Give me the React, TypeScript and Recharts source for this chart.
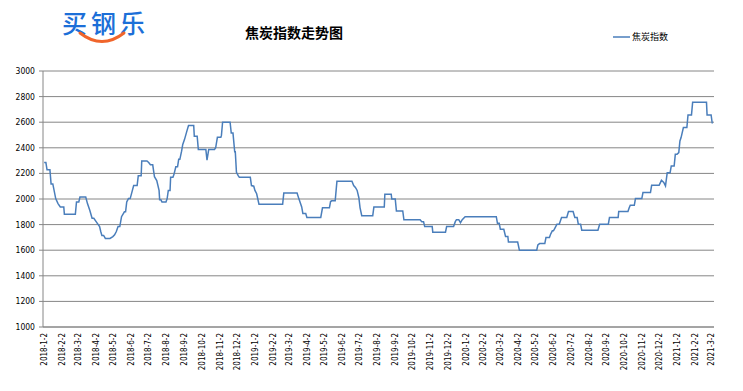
import React from 'react';
import { LineChart, Line, XAxis, YAxis, CartesianGrid } from 'recharts';

// coke index at the corners of its steps
const dates = [
  '2018-01-02', '2018-01-05', '2018-01-07', '2018-01-12', '2018-01-14', '2018-01-17', '2018-01-22', '2018-01-26',
  '2018-01-30', '2018-02-05', '2018-02-06', '2018-02-25', '2018-02-27', '2018-03-03', '2018-03-05', '2018-03-15',
  '2018-03-18', '2018-03-22', '2018-03-26', '2018-03-29', '2018-04-02', '2018-04-08', '2018-04-10', '2018-04-12',
  '2018-04-15', '2018-04-18', '2018-04-26', '2018-05-01', '2018-05-04', '2018-05-07', '2018-05-10', '2018-05-13',
  '2018-05-16', '2018-05-21', '2018-05-23', '2018-05-25', '2018-05-28', '2018-05-31', '2018-06-03', '2018-06-06',
  '2018-06-12', '2018-06-14', '2018-06-19', '2018-06-20', '2018-06-29', '2018-07-02', '2018-07-05', '2018-07-09',
  '2018-07-12', '2018-07-16', '2018-07-20', '2018-07-21', '2018-07-23', '2018-07-25', '2018-08-01', '2018-08-03',
  '2018-08-05', '2018-08-08', '2018-08-09', '2018-08-13', '2018-08-15', '2018-08-18', '2018-08-21', '2018-08-23',
  '2018-08-25', '2018-08-28', '2018-08-30', '2018-09-02', '2018-09-06', '2018-09-09', '2018-09-18', '2018-09-19',
  '2018-09-24', '2018-09-26', '2018-10-09', '2018-10-11', '2018-10-14', '2018-10-24', '2018-10-26', '2018-10-29',
  '2018-11-04', '2018-11-05', '2018-11-07', '2018-11-20', '2018-11-22', '2018-11-25', '2018-11-28', '2018-11-29',
  '2018-12-01', '2018-12-04', '2018-12-06', '2018-12-25', '2018-12-27', '2018-12-31', '2019-01-02', '2019-01-05',
  '2019-01-09', '2019-02-19', '2019-02-21', '2019-03-16', '2019-03-19', '2019-03-24', '2019-03-26', '2019-03-31',
  '2019-04-02', '2019-04-26', '2019-04-29', '2019-05-11', '2019-05-13', '2019-05-15', '2019-05-21', '2019-05-24',
  '2019-06-19', '2019-06-22', '2019-06-25', '2019-06-28', '2019-07-01', '2019-07-03', '2019-07-06', '2019-07-25',
  '2019-07-27', '2019-08-14', '2019-08-15', '2019-08-26', '2019-08-27', '2019-09-02', '2019-09-04', '2019-09-15',
  '2019-09-17', '2019-10-15', '2019-10-18', '2019-10-21', '2019-10-23', '2019-11-05', '2019-11-06', '2019-11-28',
  '2019-11-30', '2019-12-12', '2019-12-15', '2019-12-17', '2019-12-21', '2019-12-24', '2019-12-27', '2020-01-01',
  '2020-02-24', '2020-02-26', '2020-02-29', '2020-03-02', '2020-03-08', '2020-03-11', '2020-03-15', '2020-03-16',
  '2020-04-01', '2020-04-04', '2020-05-04', '2020-05-06', '2020-05-09', '2020-05-18', '2020-05-20', '2020-05-26',
  '2020-05-28', '2020-05-31', '2020-06-02', '2020-06-05', '2020-06-08', '2020-06-12', '2020-06-16', '2020-06-25',
  '2020-06-28', '2020-07-06', '2020-07-09', '2020-07-13', '2020-07-15', '2020-07-19', '2020-07-21', '2020-08-18',
  '2020-08-21', '2020-09-05', '2020-09-07', '2020-09-22', '2020-09-23', '2020-10-09', '2020-10-11', '2020-10-13',
  '2020-10-20', '2020-10-22', '2020-11-02', '2020-11-04', '2020-11-17', '2020-11-19', '2020-12-02', '2020-12-06',
  '2020-12-10', '2020-12-13', '2020-12-16', '2020-12-21', '2020-12-23', '2020-12-28', '2020-12-30', '2021-01-02',
  '2021-01-05', '2021-01-07', '2021-01-09', '2021-01-13', '2021-01-19', '2021-01-21', '2021-01-27', '2021-01-29',
  '2021-02-22', '2021-02-23', '2021-03-02', '2021-03-04',
];

const cokeIndex = [
  2285, 2285, 2228, 2228, 2118, 2118, 2003, 1964,
  1938, 1938, 1880, 1880, 1977, 1977, 2015, 2015,
  1964, 1912, 1849, 1849, 1823, 1785, 1746, 1715,
  1715, 1692, 1692, 1706, 1720, 1746, 1785, 1785,
  1862, 1900, 1900, 1977, 2003, 2003, 2054, 2105,
  2105, 2182, 2182, 2297, 2297, 2285, 2267, 2267,
  2174, 2144, 2067, 1995, 1995, 1977, 1977, 2003,
  2067, 2067, 2169, 2169, 2195, 2251, 2251, 2310,
  2310, 2374, 2426, 2464, 2528, 2574, 2574, 2490,
  2490, 2387, 2387, 2303, 2387, 2387, 2400, 2482,
  2482, 2497, 2600, 2600, 2515, 2515, 2369, 2369,
  2208, 2182, 2169, 2169, 2105, 2100, 2067, 2041,
  1959, 1959, 2046, 2046, 2003, 1938, 1887, 1887,
  1856, 1856, 1931, 1931, 1980, 1986, 1986, 2138,
  2138, 2105, 2090, 2067, 2010, 1933, 1869, 1869,
  1937, 1937, 2038, 2038, 2000, 2000, 1907, 1907,
  1838, 1838, 1823, 1823, 1785, 1785, 1741, 1741,
  1785, 1785, 1823, 1838, 1838, 1815, 1838, 1862,
  1862, 1810, 1810, 1764, 1764, 1708, 1708, 1664,
  1664, 1600, 1600, 1642, 1652, 1652, 1699, 1699,
  1725, 1751, 1751, 1777, 1803, 1803, 1855, 1855,
  1902, 1902, 1855, 1855, 1803, 1803, 1756, 1756,
  1803, 1803, 1855, 1855, 1902, 1902, 1930, 1951,
  1951, 2003, 2003, 2050, 2050, 2107, 2107, 2146,
  2130, 2102, 2206, 2206, 2258, 2258, 2349, 2349,
  2362, 2453, 2480, 2558, 2558, 2657, 2657, 2755,
  2755, 2657, 2657, 2590,
];

const monthLabels = [
  '2018-1-2', '2018-2-2', '2018-3-2', '2018-4-2', '2018-5-2', '2018-6-2', '2018-7-2', '2018-8-2',
  '2018-9-2', '2018-10-2', '2018-11-2', '2018-12-2', '2019-1-2', '2019-2-2', '2019-3-2', '2019-4-2',
  '2019-5-2', '2019-6-2', '2019-7-2', '2019-8-2', '2019-9-2', '2019-10-2', '2019-11-2', '2019-12-2',
  '2020-1-2', '2020-2-2', '2020-3-2', '2020-4-2', '2020-5-2', '2020-6-2', '2020-7-2', '2020-8-2',
  '2020-9-2', '2020-10-2', '2020-11-2', '2020-12-2', '2021-1-2', '2021-2-2', '2021-3-2',
];

const yTicks = [1000, 1200, 1400, 1600, 1800, 2000, 2200, 2400, 2600, 2800, 3000];

const toDay = (s: string) => {
  const [y, m, d] = s.split('-').map(Number);
  return Math.round((Date.UTC(y, m - 1, d) - Date.UTC(2018, 0, 2)) / 86400000);
};

const data = dates.map((d, i) => ({ day: toDay(d), value: cokeIndex[i] }));
const tickDays = monthLabels.map(toDay);

const GRID = '#868686';
const LINE = '#4a7ebb';

const MonthTick = ({ x, y, payload }: any) => {
  const i = tickDays.indexOf(payload.value);
  return (
    <g transform={`translate(${x},${y}) rotate(-90)`}>
      <text x={0} y={0} dy="0.35em" textAnchor="end" fontSize={8}
        fontFamily="'DejaVu Sans Condensed', 'DejaVu Sans', sans-serif" fill="#000">
        {i >= 0 ? monthLabels[i] : ''}
      </text>
    </g>
  );
};

export default function App() {
  return (
    <div style={{ position: 'absolute', left: 0, top: 0, width: 743, height: 391, background: '#fff' }}>
      <LineChart width={743} height={391} data={data} margin={{ top: 71, right: 29, bottom: 0, left: 0 }}>
        <CartesianGrid vertical={false} stroke={GRID} strokeWidth={1} />
        <XAxis
          dataKey="day"
          type="number"
          domain={[-2, 1160]}
          ticks={tickDays}
          interval={0}
          height={64}
          tick={<MonthTick />}
          tickLine={false}
          tickSize={0}
          tickMargin={6}
          axisLine={{ stroke: GRID }}
        />
        <YAxis
          type="number"
          domain={[1000, 3000]}
          ticks={yTicks}
          interval={0}
          width={43}
          tickSize={4}
          tickMargin={4}
          tickLine={{ stroke: GRID }}
          axisLine={{ stroke: GRID }}
          tick={{ fontSize: 8.5, fill: '#000', fontFamily: "'DejaVu Sans Condensed', 'DejaVu Sans', sans-serif" }}
        />
        <Line
          type="linear"
          dataKey="value"
          stroke={LINE}
          strokeWidth={1.5}
          dot={false}
          isAnimationActive={false}
        />
      </LineChart>

      <svg width={743} height={70} style={{ position: 'absolute', left: 0, top: 0, pointerEvents: 'none' }}>
        {/* logo */}
        <text x={62} y={33} fontSize={25} fontWeight={500} fill="#1c6fd8"
          fontFamily="'Noto Sans CJK SC', sans-serif" letterSpacing={4}>买钢乐</text>
        <path d="M80 33 Q102 50 124 33" fill="none" stroke="#f0652b" strokeWidth={3} strokeLinecap="round" />

        {/* title */}
        <text x={294} y={38} textAnchor="middle" fontSize={14} fontWeight={700} fill="#000"
          fontFamily="'Noto Sans CJK SC', sans-serif">焦炭指数走势图</text>

        {/* legend */}
        <line x1={613} y1={37} x2={630} y2={37} stroke={LINE} strokeWidth={1.5} />
        <text x={632} y={40} fontSize={9} fill="#000" fontFamily="'Noto Sans CJK SC', sans-serif">焦炭指数</text>
      </svg>
    </div>
  );
}
